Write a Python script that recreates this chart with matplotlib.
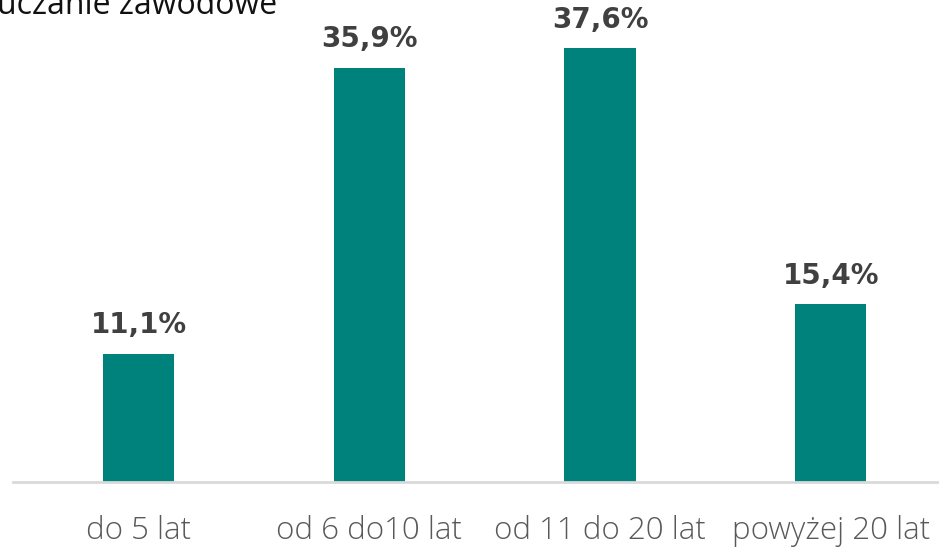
import matplotlib.pyplot as plt

categories = ["do 5 lat", "od 6 do10 lat", "od 11 do 20 lat", "powyżej 20 lat"]
shares = [11.1, 35.9, 37.6, 15.4]
value_labels = ["11,1%", "35,9%", "37,6%", "15,4%"]
title_text = "uczanie zawodowe"

BAR_COLOR = "#00827C"
LABEL_COLOR = "#404040"
TICK_COLOR = "#595959"
AXIS_COLOR = "#D9D9D9"

W, H = 939, 552
fig = plt.figure(figsize=(W / 100, H / 100), dpi=100)

# axes box in pixel terms: baseline at y=482, left end of the axis line at x=13
ax = fig.add_axes([13 / W, 70 / H, 940 / W, 482 / H])
ax.set_xlim(-0.5445, 3.53)
ax.set_ylim(0, 41.77)

x = range(len(categories))
ax.bar(x, shares, width=0.308, color=BAR_COLOR, zorder=2)

for xi, val, lab in zip(x, shares, value_labels):
    ax.annotate(lab, (xi, val), xytext=(0, 10.5), textcoords="offset points",
                ha="center", va="bottom", fontsize=20, fontweight="bold",
                color=LABEL_COLOR, family="DejaVu Sans")

for side in ["top", "right", "left"]:
    ax.spines[side].set_visible(False)
ax.spines["bottom"].set_color(AXIS_COLOR)
ax.spines["bottom"].set_linewidth(2)

ax.set_yticks([])
ax.set_xticks(list(x))
ax.set_xticklabels(categories, fontsize=22.5, color=TICK_COLOR,
                   family="Open Sans", fontweight="light")
ax.tick_params(axis="x", length=0, pad=24)

fig.text(-3 / W, 1 - 14 / H, title_text, fontsize=23, color="#111111",
         family="Open Sans", ha="left", va="baseline")

fig.savefig("out.png", dpi=100)
